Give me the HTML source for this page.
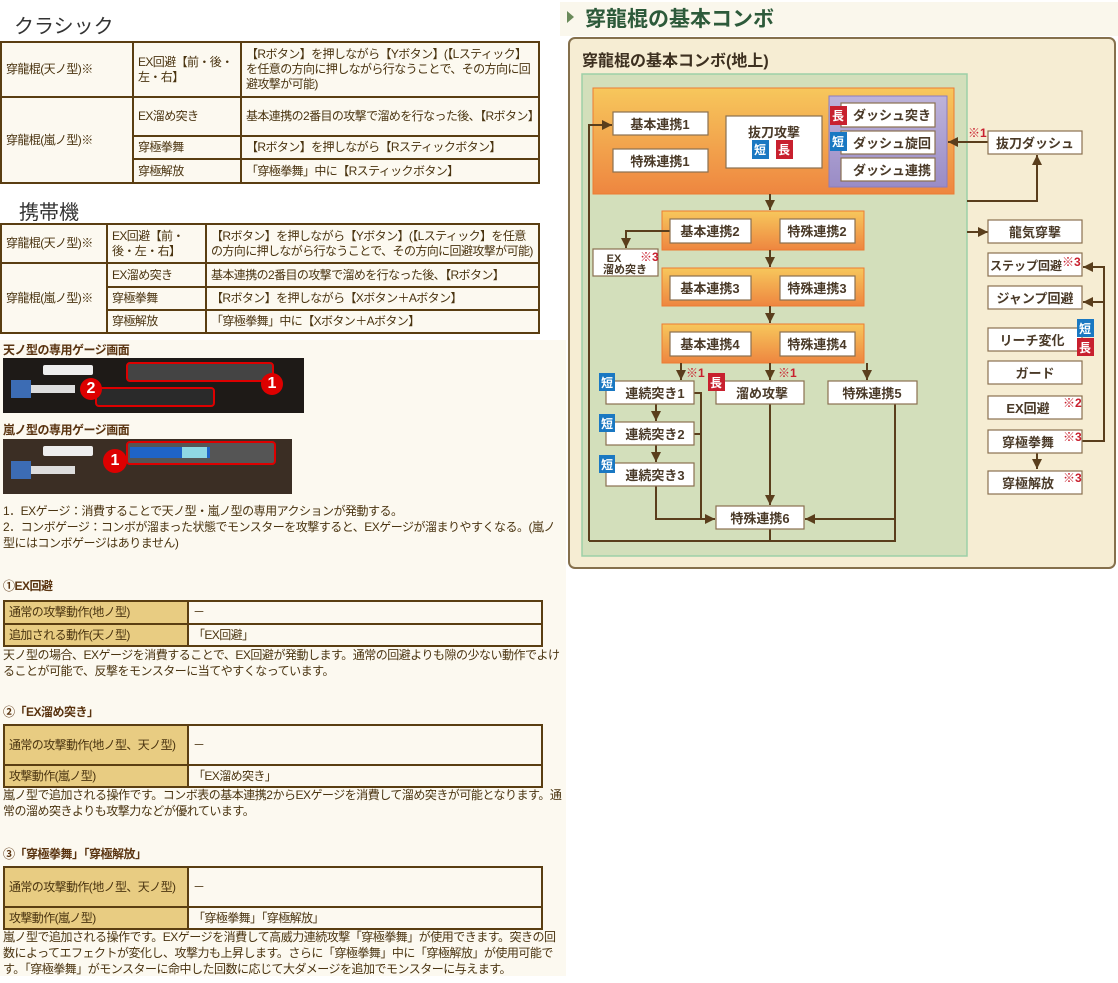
<!DOCTYPE html>
<html><head><meta charset="utf-8"><style>
*{margin:0;padding:0;box-sizing:border-box}
body{width:1118px;height:983px;position:relative;background:#fff;font-family:"Liberation Sans","Noto Sans CJK JP",sans-serif;color:#3a2a10;overflow:hidden}
.a{position:absolute}
table{border-collapse:collapse;position:absolute;background:#fcf9f0;table-layout:fixed}
td{border:2px solid #5a3e12;font-size:12px;color:#4a3410;padding:0 3px 0 4px;line-height:15px;vertical-align:middle;letter-spacing:-0.6px;overflow:hidden}
.t{font-size:12px;line-height:16px;color:#4a3410;letter-spacing:-0.5px}
.h{font-size:12px;font-weight:bold;color:#5a3410;letter-spacing:-0.5px}
.th{background:#e8cc82}
</style></head><body>
<div class="a" style="left:0;top:340px;width:566px;height:636px;background:#fcf9f0"></div>
<div class="a" style="left:14px;top:10px;font-size:20px;color:#333">クラシック</div>
<table style="left:0;top:41px;width:540px">
<colgroup><col style="width:132px"><col style="width:108px"><col></colgroup>
<tr style="height:55px"><td>穿龍棍(天ノ型)※</td><td>EX回避【前・後・左・右】</td><td>【Rボタン】を押しながら【Yボタン】(【Lスティック】を任意の方向に押しながら行なうことで、その方向に回避攻撃が可能)</td></tr>
<tr style="height:39px"><td rowspan="3">穿龍棍(嵐ノ型)※</td><td>EX溜め突き</td><td>基本連携の2番目の攻撃で溜めを行なった後、【Rボタン】</td></tr>
<tr style="height:23px"><td>穿極拳舞</td><td>【Rボタン】を押しながら【Rスティックボタン】</td></tr>
<tr style="height:24px"><td>穿極解放</td><td>「穿極拳舞」中に【Rスティックボタン】</td></tr>
</table>
<div class="a" style="left:19px;top:196px;font-size:20px;color:#333">携帯機</div>
<table style="left:0;top:223px;width:540px">
<colgroup><col style="width:106px"><col style="width:99px"><col></colgroup>
<tr style="height:39px"><td>穿龍棍(天ノ型)※</td><td>EX回避【前・後・左・右】</td><td>【Rボタン】を押しながら【Yボタン】(【Lスティック】を任意の方向に押しながら行なうことで、その方向に回避攻撃が可能)</td></tr>
<tr style="height:24px"><td rowspan="3">穿龍棍(嵐ノ型)※</td><td>EX溜め突き</td><td>基本連携の2番目の攻撃で溜めを行なった後、【Rボタン】</td></tr>
<tr style="height:23px"><td>穿極拳舞</td><td>【Rボタン】を押しながら【Xボタン＋Aボタン】</td></tr>
<tr style="height:23px"><td>穿極解放</td><td>「穿極拳舞」中に【Xボタン＋Aボタン】</td></tr>
</table>
<div class="a h" style="left:3px;top:341px">天ノ型の専用ゲージ画面</div>
<div class="a" style="left:3px;top:358px;width:301px;height:55px;background:#1e1a17">
 <div class="a" style="left:40px;top:7px;width:50px;height:10px;background:#eee;border-radius:2px"></div>
 <div class="a" style="left:12px;top:27px;width:60px;height:8px;background:#ddd"></div>
 <div class="a" style="left:8px;top:22px;width:20px;height:18px;background:#3c6cb4"></div>
 <div class="a" style="left:123px;top:4px;width:148px;height:20px;border:2px solid #d00;border-radius:4px;background:#444"></div>
 <div class="a" style="left:92px;top:29px;width:120px;height:20px;border:2px solid #d00;border-radius:4px;background:#2a2a2a"></div>
 <div class="a" style="left:258px;top:15px;width:22px;height:22px;border-radius:50%;background:#d00;color:#fff;font-weight:bold;font-size:16px;text-align:center;line-height:22px">1</div>
 <div class="a" style="left:77px;top:20px;width:22px;height:22px;border-radius:50%;background:#d00;color:#fff;font-weight:bold;font-size:16px;text-align:center;line-height:22px">2</div>
</div>
<div class="a h" style="left:3px;top:421px">嵐ノ型の専用ゲージ画面</div>
<div class="a" style="left:3px;top:439px;width:289px;height:55px;background:#3b2e24">
 <div class="a" style="left:40px;top:7px;width:50px;height:10px;background:#eee;border-radius:2px"></div>
 <div class="a" style="left:12px;top:27px;width:60px;height:8px;background:#ddd"></div>
 <div class="a" style="left:8px;top:22px;width:20px;height:18px;background:#3c6cb4"></div>
 <div class="a" style="left:123px;top:2px;width:150px;height:24px;border:2px solid #d00;border-radius:4px;background:#555"></div>
 <div class="a" style="left:127px;top:8px;width:80px;height:11px;background:#1f64c8"></div>
 <div class="a" style="left:179px;top:8px;width:25px;height:11px;background:#8fd8e4"></div>
 <div class="a" style="left:100px;top:10px;width:24px;height:24px;border-radius:50%;background:#d00;color:#fff;font-weight:bold;font-size:16px;text-align:center;line-height:24px">1</div>
</div>
<div class="a t" style="left:3px;top:503px;width:562px">1．EXゲージ：消費することで天ノ型・嵐ノ型の専用アクションが発動する。<br>2．コンボゲージ：コンボが溜まった状態でモンスターを攻撃すると、EXゲージが溜まりやすくなる。(嵐ノ型にはコンボゲージはありません)</div>
<div class="a h" style="left:3px;top:577px">①EX回避</div>
<table style="left:3px;top:600px;width:540px">
<colgroup><col style="width:184px"><col></colgroup>
<tr style="height:23px"><td class="th">通常の攻撃動作(地ノ型)</td><td>－</td></tr>
<tr style="height:22px"><td class="th">追加される動作(天ノ型)</td><td>「EX回避」</td></tr></table>
<div class="a t" style="left:3px;top:647px;width:562px">天ノ型の場合、EXゲージを消費することで、EX回避が発動します。通常の回避よりも隙の少ない動作でよけることが可能で、反撃をモンスターに当てやすくなっています。</div>
<div class="a h" style="left:3px;top:703px">②「EX溜め突き」</div>
<table style="left:3px;top:724px;width:540px">
<colgroup><col style="width:184px"><col></colgroup>
<tr style="height:40px"><td class="th">通常の攻撃動作(地ノ型、天ノ型)</td><td>－</td></tr>
<tr style="height:22px"><td class="th">攻撃動作(嵐ノ型)</td><td>「EX溜め突き」</td></tr></table>
<div class="a t" style="left:3px;top:787px;width:562px">嵐ノ型で追加される操作です。コンボ表の基本連携2からEXゲージを消費して溜め突きが可能となります。通常の溜め突きよりも攻撃力などが優れています。</div>
<div class="a h" style="left:3px;top:845px">③「穿極拳舞」「穿極解放」</div>
<table style="left:3px;top:866px;width:540px">
<colgroup><col style="width:184px"><col></colgroup>
<tr style="height:40px"><td class="th">通常の攻撃動作(地ノ型、天ノ型)</td><td>－</td></tr>
<tr style="height:22px"><td class="th">攻撃動作(嵐ノ型)</td><td>「穿極拳舞」「穿極解放」</td></tr></table>
<div class="a t" style="left:3px;top:929px;width:562px">嵐ノ型で追加される操作です。EXゲージを消費して高威力連続攻撃「穿極拳舞」が使用できます。突きの回数によってエフェクトが変化し、攻撃力も上昇します。さらに「穿極拳舞」中に「穿極解放」が使用可能です。「穿極拳舞」がモンスターに命中した回数に応じて大ダメージを追加でモンスターに与えます。</div>

<svg class="a" style="left:0;top:0" width="1118" height="983" viewBox="0 0 1118 983" font-family="Liberation Sans,Noto Sans CJK JP,sans-serif">
<defs>
<linearGradient id="og" x1="0" y1="0" x2="0" y2="1"><stop offset="0" stop-color="#f7c75c"/><stop offset="1" stop-color="#ee8640"/></linearGradient>
<linearGradient id="pg" x1="0" y1="0" x2="0" y2="1"><stop offset="0" stop-color="#bdb3da"/><stop offset="1" stop-color="#9a8cc6"/></linearGradient>
<marker id="ar" viewBox="0 0 10 10" refX="10" refY="5" markerWidth="5" markerHeight="5" orient="auto"><path d="M0 0L10 5L0 10z" fill="#5a3e1c"/></marker>
</defs>
<rect x="560" y="2" width="558" height="34" fill="#faf7ec"/>
<path d="M567 11l7 6l-7 6z" fill="#6a8a5a"/>
<text x="585" y="26" font-size="21" font-weight="bold" fill="#2d5a3a">穿龍棍の基本コンボ</text>
<rect x="569" y="38" width="546" height="530" rx="6" fill="#f6edd3" stroke="#85704c" stroke-width="2"/>
<text x="582" y="66" font-size="16" font-weight="bold" fill="#3d3020">穿龍棍の基本コンボ(地上)</text>
<rect x="582" y="74" width="385" height="482" fill="#d3dfbb" stroke="#9dd0a8" stroke-width="1.5"/>
<rect x="593" y="88" width="361" height="106" fill="url(#og)" stroke="#ec7b32"/>
<rect x="829" y="96" width="118" height="91" fill="url(#pg)" stroke="#8a7cc0"/>
<rect x="662" y="211" width="202" height="39" fill="url(#og)" stroke="#ec7b32"/>
<rect x="662" y="268" width="202" height="38" fill="url(#og)" stroke="#ec7b32"/>
<rect x="662" y="324" width="202" height="39" fill="url(#og)" stroke="#ec7b32"/>
<g fill="none" stroke="#5a3e1c" stroke-width="2">
<path d="M589 541V125H612" marker-end="url(#ar)"/>
<path d="M589 541H895V404"/>
<path d="M770 529V541"/>
<path d="M770 194V210" marker-end="url(#ar)"/>
<path d="M770 250V267" marker-end="url(#ar)"/>
<path d="M770 306V323" marker-end="url(#ar)"/>
<path d="M670 231H626V248" marker-end="url(#ar)"/>
<path d="M681 363V380" marker-end="url(#ar)"/>
<path d="M770 363V380" marker-end="url(#ar)"/>
<path d="M867 363V380" marker-end="url(#ar)"/>
<path d="M656 404V421" marker-end="url(#ar)"/>
<path d="M656 445V462" marker-end="url(#ar)"/>
<path d="M656 486V519H715" marker-end="url(#ar)"/>
<path d="M694 393H701V519M694 434H701"/>
<path d="M770 404V505" marker-end="url(#ar)"/>
<path d="M895 519H805" marker-end="url(#ar)"/>
<path d="M989 142H948" marker-end="url(#ar)"/>
<path d="M967 201H1037V155" marker-end="url(#ar)"/>
<path d="M967 232H988" marker-end="url(#ar)"/>
<path d="M1082 441H1104V267H1083" marker-end="url(#ar)"/>
<path d="M1104 302H1083" marker-end="url(#ar)"/>
<path d="M1037 453V469" marker-end="url(#ar)"/>
</g>
<g fill="#fff" stroke="#8a7050" stroke-width="1.2">
<rect x="613" y="112" width="95" height="23"/><rect x="613" y="149" width="95" height="23"/>
<rect x="726" y="116" width="96" height="52"/>
<rect x="841" y="103" width="94" height="24"/><rect x="841" y="131" width="94" height="23"/><rect x="841" y="158" width="94" height="23"/>
<rect x="670" y="219" width="81" height="24"/><rect x="780" y="219" width="75" height="24"/>
<rect x="670" y="276" width="81" height="24"/><rect x="780" y="276" width="75" height="24"/>
<rect x="670" y="332" width="81" height="24"/><rect x="780" y="332" width="75" height="24"/>
<rect x="593" y="249" width="65" height="27"/>
<rect x="606" y="381" width="88" height="23"/><rect x="606" y="422" width="88" height="23"/><rect x="606" y="463" width="88" height="23"/>
<rect x="716" y="381" width="88" height="23"/><rect x="828" y="381" width="89" height="23"/>
<rect x="716" y="506" width="88" height="23"/>
<rect x="988" y="131" width="94" height="23"/>
<rect x="988" y="220" width="94" height="23"/><rect x="988" y="253" width="94" height="23"/><rect x="988" y="286" width="94" height="23"/>
<rect x="988" y="328" width="94" height="23"/><rect x="988" y="361" width="94" height="23"/><rect x="988" y="396" width="94" height="23"/>
<rect x="988" y="430" width="94" height="23"/><rect x="988" y="471" width="94" height="23"/>
</g>
<g font-size="13" font-weight="bold" fill="#4a3a28" text-anchor="middle">
<text x="660" y="129">基本連携1</text><text x="660" y="166">特殊連携1</text>
<text x="774" y="137">抜刀攻撃</text>
<text x="892" y="120">ダッシュ突き</text><text x="892" y="148">ダッシュ旋回</text><text x="892" y="175">ダッシュ連携</text>
<text x="710" y="236">基本連携2</text><text x="817" y="236">特殊連携2</text>
<text x="710" y="293">基本連携3</text><text x="817" y="293">特殊連携3</text>
<text x="710" y="349">基本連携4</text><text x="817" y="349">特殊連携4</text>
<text x="655" y="398">連続突き1</text><text x="655" y="439">連続突き2</text><text x="655" y="480">連続突き3</text>
<text x="762" y="398">溜め攻撃</text><text x="872" y="398">特殊連携5</text>
<text x="760" y="523">特殊連携6</text>
<text x="1035" y="148">抜刀ダッシュ</text><text x="1035" y="237">龍気穿撃</text>
<text x="1026" y="270" font-size="12">ステップ回避</text><text x="1035" y="303">ジャンプ回避</text>
<text x="1032" y="345">リーチ変化</text><text x="1035" y="378">ガード</text>
<text x="1028" y="413">EX回避</text><text x="1028" y="447">穿極拳舞</text><text x="1028" y="488">穿極解放</text>
<text x="614" y="262" font-size="11">EX</text><text x="625" y="273" font-size="11">溜め突き</text>
</g>
<g font-size="12" font-weight="bold" fill="#c8202e">
<text x="968" y="137">※1</text><text x="686" y="377">※1</text><text x="778" y="377">※1</text>
<text x="640" y="261">※3</text><text x="1062" y="266">※3</text><text x="1063" y="407">※2</text>
<text x="1063" y="441">※3</text><text x="1063" y="482">※3</text>
</g>
<g font-size="12" font-weight="bold" fill="#fff" text-anchor="middle">
<rect x="752" y="140" width="17" height="19" fill="#1a78c2"/><text x="760" y="154">短</text>
<rect x="776" y="140" width="17" height="19" fill="#c8202e"/><text x="784" y="154">長</text>
<rect x="830" y="106" width="17" height="19" fill="#c8202e"/><text x="838" y="120">長</text>
<rect x="830" y="132" width="17" height="19" fill="#1a78c2"/><text x="838" y="146">短</text>
<rect x="599" y="373" width="16" height="18" fill="#1a78c2"/><text x="607" y="387">短</text>
<rect x="599" y="414" width="16" height="18" fill="#1a78c2"/><text x="607" y="428">短</text>
<rect x="599" y="455" width="16" height="18" fill="#1a78c2"/><text x="607" y="469">短</text>
<rect x="708" y="373" width="17" height="18" fill="#c8202e"/><text x="716" y="387">長</text>
<rect x="1077" y="319" width="17" height="18" fill="#1a78c2"/><text x="1085" y="333">短</text>
<rect x="1077" y="338" width="17" height="18" fill="#c8202e"/><text x="1085" y="352">長</text>
</g>
</svg>
</body></html>
